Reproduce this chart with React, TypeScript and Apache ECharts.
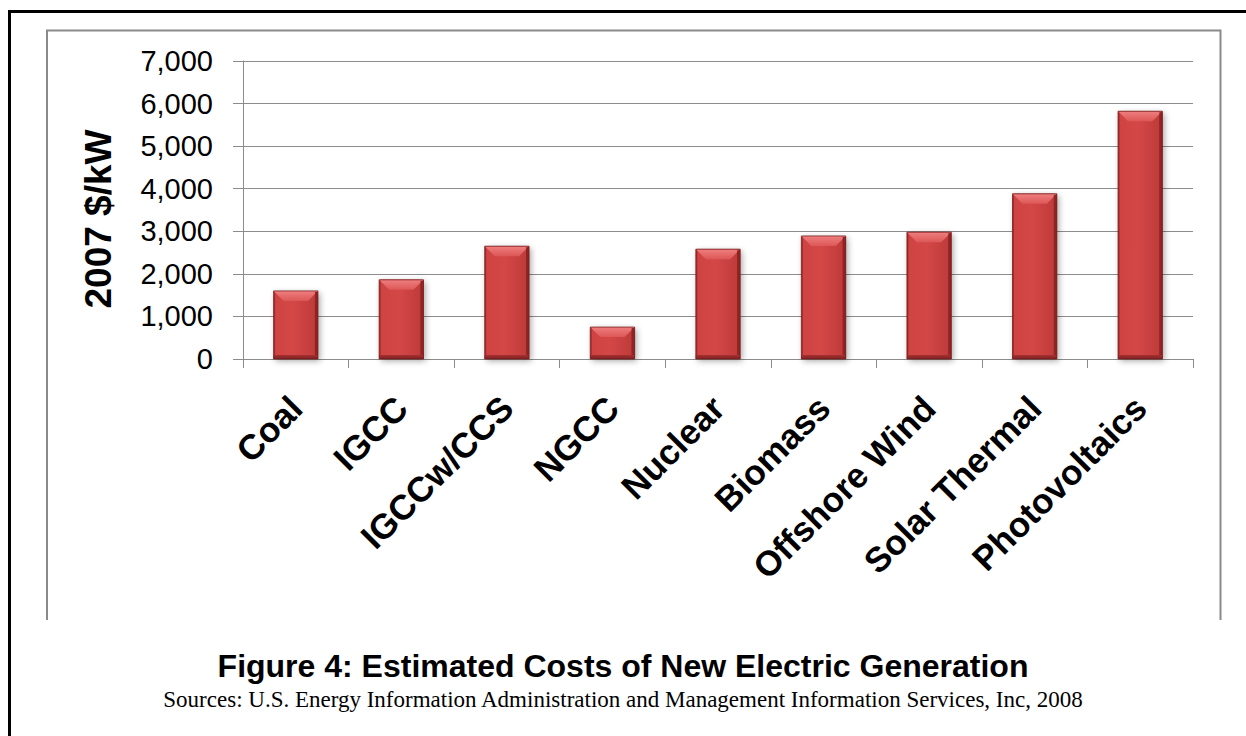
import React, { useEffect, useRef } from "react";
import * as echarts from "echarts";

const categories = [
  "Coal",
  "IGCC",
  "IGCCw/CCS",
  "NGCC",
  "Nuclear",
  "Biomass",
  "Offshore Wind",
  "Solar Thermal",
  "Photovoltaics",
];
const costs = [1600, 1860, 2650, 750, 2580, 2890, 2980, 3880, 5820];
const yAxisTitle = "2007 $/kW";
const figureTitle = "Figure 4: Estimated Costs of New Electric Generation";
const sourceText =
  "Sources: U.S. Energy Information Administration and Management Information Services, Inc, 2008";

const SANS = "'Liberation Sans', Arial, sans-serif";
const SERIF = "'Liberation Serif', 'Times New Roman', serif";

export default function App() {
  const ref = useRef<HTMLDivElement>(null);

  useEffect(() => {
    if (!ref.current) return;
    const chart = echarts.init(ref.current, undefined, { renderer: "svg" });

    const renderItem = (params: any, api: any) => {
      const idx = api.value(0);
      const v = api.value(1);
      const top = api.coord([idx, v]);
      const base = api.coord([idx, 0]);
      const bw = api.size([1, 0])[0] * 0.42;
      const x0 = top[0] - bw / 2;
      const x1 = top[0] + bw / 2;
      const yT = top[1];
      const yB = base[1];
      const h = yB - yT;
      const b = Math.min(10, h / 3, bw / 4);
      const bottomBand = Math.min(4, h / 6);
      return {
        type: "group",
        children: [
          {
            type: "rect",
            shape: { x: x0, y: yT, width: bw, height: h },
            style: {
              fill: "#a42c2c",
              shadowBlur: 6,
              shadowColor: "rgba(0,0,0,0.35)",
              shadowOffsetX: 2,
              shadowOffsetY: 2,
            },
          },
          {
            type: "rect",
            shape: { x: x0 + 1.5, y: yT, width: bw - 4.5, height: h - bottomBand },
            style: {
              fill: new echarts.graphic.LinearGradient(0, 0, 1, 0, [
                { offset: 0, color: "#d04343" },
                { offset: 0.45, color: "#d44747" },
                { offset: 1, color: "#c03b3b" },
              ]),
            },
          },
          {
            type: "polygon",
            shape: {
              points: [
                [x0, yT],
                [x1, yT],
                [x1 - b, yT + b],
                [x0 + b, yT + b],
              ],
            },
            style: {
              fill: new echarts.graphic.LinearGradient(0, 0, 0, 1, [
                { offset: 0, color: "#ef7f7f" },
                { offset: 1, color: "#dd5757" },
              ]),
            },
          },
          {
            type: "rect",
            shape: { x: x1 - 3, y: yT + 1, width: 3, height: h - 1 },
            style: { fill: "#8e2525" },
          },
          {
            type: "rect",
            shape: { x: x0, y: yB - bottomBand, width: bw, height: bottomBand },
            style: {
              fill: new echarts.graphic.LinearGradient(0, 0, 0, 1, [
                { offset: 0, color: "#a63030" },
                { offset: 1, color: "#7e2020" },
              ]),
            },
          },
          {
            type: "rect",
            shape: { x: x0, y: yT, width: bw, height: h },
            style: { fill: "none", stroke: "#7a1d1d", lineWidth: 0.8 },
          },
        ],
      };
    };

    chart.setOption({
      animation: false,
      backgroundColor: "#ffffff",
      title: {
        text: figureTitle,
        subtext: sourceText,
        left: "center",
        top: 645,
        itemGap: 6,
        textStyle: {
          fontFamily: SANS,
          fontWeight: "bold",
          fontSize: 32,
          lineHeight: 32,
          color: "#000000",
        },
        subtextStyle: {
          fontFamily: SERIF,
          fontSize: 23,
          lineHeight: 23,
          color: "#000000",
        },
      },
      grid: { left: 243, right: 53, top: 61, bottom: 377 },
      xAxis: {
        type: "category",
        data: categories,
        axisLine: { show: true, lineStyle: { color: "#8c8c8c", width: 1 } },
        axisTick: { show: true, length: 9, lineStyle: { color: "#8c8c8c" } },
        axisLabel: {
          rotate: 45,
          interval: 0,
          margin: 43,
          fontFamily: SANS,
          fontWeight: "bold",
          fontSize: 35,
          color: "#000000",
        },
        splitLine: { show: false },
      },
      yAxis: {
        type: "value",
        min: 0,
        max: 7000,
        interval: 1000,
        axisLine: { show: true, lineStyle: { color: "#8c8c8c", width: 1 } },
        axisTick: { show: true, length: 10, lineStyle: { color: "#8c8c8c" } },
        axisLabel: {
          margin: 30,
          fontFamily: SANS,
          fontSize: 29,
          color: "#000000",
          formatter: (v: number) => v.toLocaleString("en-US"),
        },
        splitLine: { show: true, lineStyle: { color: "#8c8c8c", width: 1 } },
      },
      graphic: [
        {
          type: "rect",
          shape: { x: 8, y: 10, width: 3, height: 726 },
          style: { fill: "#000000" },
          silent: true,
        },
        {
          type: "rect",
          shape: { x: 8, y: 10, width: 1238, height: 3 },
          style: { fill: "#000000" },
          silent: true,
        },
        {
          type: "polyline",
          shape: {
            points: [
              [47, 620],
              [47, 30.5],
              [1220.5, 30.5],
              [1220.5, 620],
            ],
          },
          style: { stroke: "#8a8a8a", lineWidth: 2, fill: "none" },
          silent: true,
        },
        {
          type: "text",
          x: 98,
          y: 219,
          rotation: Math.PI / 2,
          style: {
            text: yAxisTitle,
            fontFamily: SANS,
            fontWeight: "bold",
            fontSize: 37,
            fill: "#000000",
            align: "center",
            verticalAlign: "middle",
          },
          silent: true,
        },
      ],
      series: [
        {
          type: "custom",
          renderItem,
          encode: { x: 0, y: 1 },
          data: categories.map((c, i) => [i, costs[i]]),
        },
      ],
    });

    return () => chart.dispose();
  }, []);

  return (
    <div
      ref={ref}
      style={{ position: "absolute", left: 0, top: 0, width: 1246, height: 736 }}
    />
  );
}
